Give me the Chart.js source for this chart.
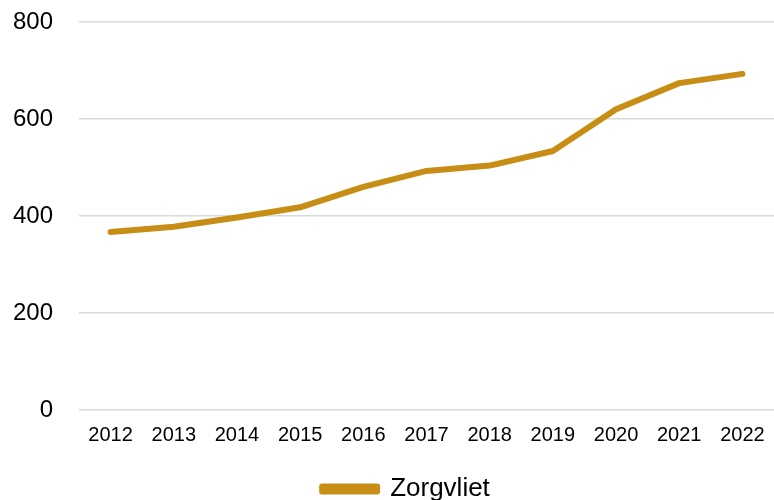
<!DOCTYPE html>
<html>
<head>
<meta charset="utf-8">
<script src="https://cdn.jsdelivr.net/npm/chart.js"></script>
<style>
	html, body { margin: 0; padding: 0; background: #fff; }
	#wrap { width: 774px; height: 500px; }
</style>
</head>
<body>
<div id="wrap"><canvas id="chart" width="774" height="500"></canvas></div>
<script>
// data
var years = ["2012", "2013", "2014", "2015", "2016", "2017", "2018", "2019", "2020", "2021", "2022"];
var zorgvliet = [367, 378, 397, 418, 460, 493, 504, 534, 620, 674, 693];
var yTicks = [0, 200, 400, 600, 800];

var gold = "#C88D14";

// nudge the legend right and down, as in the original picture
var legendShift = {
	id: "legendShift",
	afterLayout: function (chart) {
		var lg = chart.legend;
		if (lg) {
			lg.left += 19;
			lg.right += 19;
			lg.top += 12;
			lg.bottom += 12;
		}
	},
};

var ctx = document.getElementById("chart").getContext("2d");
new Chart(ctx, {
	type: "line",
	data: {
		labels: years,
		datasets: [
			{
				label: "Zorgvliet",
				data: zorgvliet,
				borderColor: gold,
				backgroundColor: gold,
				borderWidth: 6,
				pointRadius: 0,
				tension: 0,
				borderCapStyle: "round",
				borderJoinStyle: "round",
			},
		],
	},
	options: {
		responsive: false,
		animation: false,
		layout: { padding: { left: 0, right: 0, top: 22, bottom: 0 } },
		scales: {
			x: {
				offset: true,
				afterFit: function (axis) {
					axis.height = 48;
					axis.paddingLeft = 0;
					axis.paddingRight = 0;
				},
				grid: { display: false, drawTicks: false },
				border: { display: false },
				ticks: {
					color: "#000",
					padding: 13,
					maxRotation: 0,
					font: { family: "Liberation Sans", size: 20 },
				},
			},
			y: {
				min: 0,
				max: 800,
				afterBuildTicks: function (axis) {
					axis.ticks = yTicks.map((v) => ({ value: v }));
				},
				afterFit: function (axis) {
					axis.width = 79;
					axis.paddingTop = 0;
					axis.paddingBottom = 0;
				},
				grid: { color: "#d9d9d9", lineWidth: 1.5, drawTicks: false },
				border: { display: false },
				ticks: {
					color: "#000",
					padding: 26,
					font: { family: "Liberation Sans", size: 24 },
				},
			},
		},
		plugins: {
			legend: {
				position: "bottom",
				labels: {
					color: "#000",
					boxWidth: 55,
					boxHeight: 5,
					padding: 6,
					font: { family: "Liberation Sans", size: 26 },
				},
			},
			tooltip: { enabled: false },
		},
	},
	plugins: [legendShift],
});
</script>
</body>
</html>
